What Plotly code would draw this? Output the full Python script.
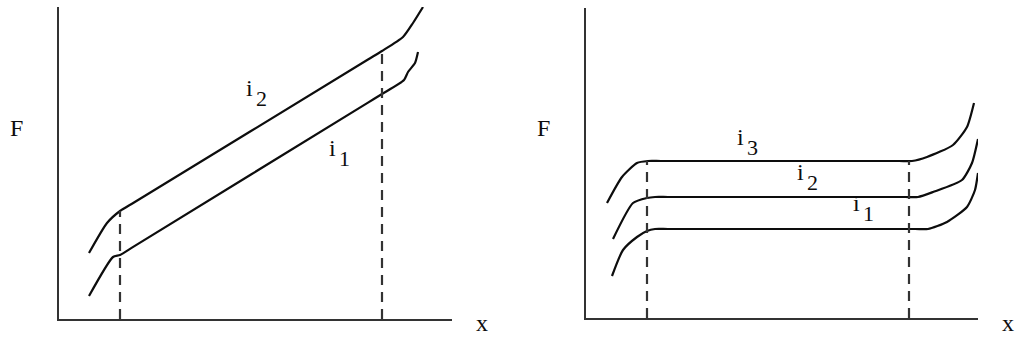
import plotly.graph_objects as go

# ---- data (x position, force F) ----
# Left panel
L_i2_x = [30, 48, 61, 75, 309, 323, 344, 354, 364]
L_i2_F = [66, 96, 108, 116.5, 259.5, 268, 282, 296, 312]
L_i1_x = [30, 54, 61, 75, 309, 323, 345, 349, 356, 359]
L_i1_F = [23, 62, 64, 72.6, 216.4, 225, 239, 247, 256, 267]
L_marks_x = [61, 323]
L_marks_top = [108, 268]

# Right panel
R_i3_x = [21, 36, 51, 62, 75, 313, 326, 341, 367, 381, 388]
R_i3_F = [115, 141, 155, 157, 157, 157, 157, 161, 173, 191, 215]
R_i2_x = [27, 47, 61, 69, 82, 319, 332, 347, 376, 386, 392]
R_i2_F = [79, 115, 120, 121, 121, 121, 121, 126, 138, 155, 179]
R_i1_x = [26, 37, 51, 61, 69, 82, 329, 342, 361, 381, 389, 392]
R_i1_F = [42, 68, 81, 87, 89, 89, 89, 89, 96, 111, 128, 145]
R_marks_x = [61, 323]
R_marks_top = [157, 157]

# labels: (main, subscript, x, F) in data units
L_labels = [("i", "2", 190, 231), ("i", "1", 273, 171)]
R_labels = [("i", "3", 154, 181), ("i", "2", 214, 146), ("i", "1", 270, 115)]

W, H = 1017, 340
FONT = "Liberation Serif"
INK = "#0d0d0d"

fig = go.Figure()

def curve(x, y, xa, ya):
    fig.add_trace(go.Scatter(x=x, y=y, mode="lines", xaxis=xa, yaxis=ya,
                             line=dict(color=INK, width=2.2, shape="spline", smoothing=0.6),
                             cliponaxis=False, showlegend=False, hoverinfo="skip"))

def marks(xs, tops, xa, ya):
    for xv, t in zip(xs, tops):
        fig.add_trace(go.Scatter(x=[xv, xv], y=[0, t], mode="lines", xaxis=xa, yaxis=ya,
                                 line=dict(color="#333333", width=2.2, dash="10px,7px"),
                                 cliponaxis=False, showlegend=False, hoverinfo="skip"))

curve(L_i2_x, L_i2_F, "x", "y")
curve(L_i1_x, L_i1_F, "x", "y")
marks(L_marks_x, L_marks_top, "x", "y")
curve(R_i3_x, R_i3_F, "x2", "y2")
curve(R_i2_x, R_i2_F, "x2", "y2")
curve(R_i1_x, R_i1_F, "x2", "y2")
marks(R_marks_x, R_marks_top, "x2", "y2")

ann = []
def labels(lst, xr, yr):
    for main, sub, xv, yv in lst:
        ann.append(dict(x=xv, y=yv, xref=xr, yref=yr, text=main, showarrow=False,
                        font=dict(family=FONT, size=24, color=INK), xanchor="center", yanchor="middle"))
        ann.append(dict(x=xv + 12, y=yv - 10, xref=xr, yref=yr, text=sub, showarrow=False,
                        font=dict(family=FONT, size=22, color=INK), xanchor="center", yanchor="middle"))

labels(L_labels, "x", "y")
labels(R_labels, "x2", "y2")

for txt, px, py in [("F", 16, 128), ("x", 482, 323), ("F", 543, 128), ("x", 1008, 323)]:
    ann.append(dict(x=px / W, y=1 - py / H, xref="paper", yref="paper", text=txt, showarrow=False,
                    borderpad=0, font=dict(family=FONT, size=24, color=INK),
                    xanchor="center", yanchor="middle"))

axis_common = dict(showgrid=False, zeroline=False, showticklabels=False, ticks="",
                   showline=True, linecolor="#333333", linewidth=2)

fig.update_layout(
    width=W, height=H,
    margin=dict(l=0, r=0, t=0, b=0),
    paper_bgcolor="white", plot_bgcolor="white",
    xaxis=dict(domain=[59 / W, 452 / W], range=[0, 393], anchor="y", **axis_common),
    yaxis=dict(domain=[21 / H, 333 / H], range=[0, 312], anchor="x", **axis_common),
    xaxis2=dict(domain=[586 / W, 978 / W], range=[0, 392], anchor="y2", **axis_common),
    yaxis2=dict(domain=[22 / H, 332 / H], range=[0, 310], anchor="x2", **axis_common),
    annotations=ann,
    hovermode=False,
)

fig.write_html("out.html", config={"displayModeBar": False, "staticPlot": True},
               post_script="document.body.style.margin='0';document.body.style.overflow='hidden';")
